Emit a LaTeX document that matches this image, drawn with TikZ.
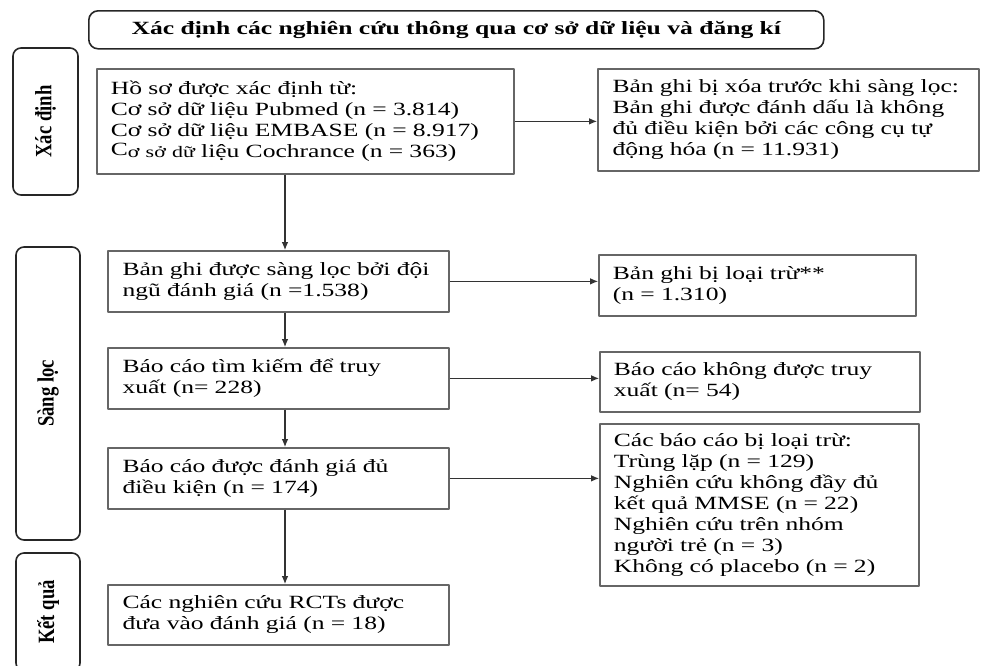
\documentclass[tikz,border=0pt]{standalone}
\usepackage{fontspec}
\setmainfont{Liberation Serif}[FakeStretch=1.37]
\newfontfamily\sidefont{Liberation Serif}
\usetikzlibrary{arrows.meta, positioning}

\begin{document}
\begin{tikzpicture}[x=0.75pt, y=-0.75pt, line join=round]

  \def\fsz{\fontsize{14pt}{15.75pt}\selectfont}

  % Styles
  \tikzset{
    phase/.style={draw=black!85, line width=1.2pt, rounded corners=6pt, rotate=90,
      inner sep=0pt, font=\sidefont\bfseries\fsz},
    head/.style={draw=black!85, line width=1.2pt, rounded corners=7pt, anchor=north west,
      inner sep=0pt, font=\bfseries\fsz},
    box/.style={draw=black!60, line width=1.3pt, anchor=north west, align=left,
      inner ysep=0pt, font=\fsz},
    flow/.style={-{Latex[length=6pt, width=5pt]}, line width=0.8pt, black!80},
  }

  \useasboundingbox (0,0) rectangle (981,665);
  \clip (0,0) rectangle (981,665);

  % Header
  \node[head, minimum width=551.25pt, minimum height=28.5pt] (title) at (88,10)
    {Xác định các nghiên cứu thông qua cơ sở dữ liệu và đăng kí};

  % Phase labels
  \node[phase, minimum width=110.25pt, minimum height=48.75pt] (idf) at (45.5,121.5)
    {\scalebox{1}[1.25]{Xác định}};
  \node[phase, minimum width=219.75pt, minimum height=48pt] (scr) at (48,393.5)
    {\scalebox{1}[1.25]{Sàng lọc}};
  \node[phase, minimum width=88.5pt, minimum height=48pt] (res) at (48,612)
    {\scalebox{1}[1.25]{Kết quả}};

  % Main column
  \node[box, minimum width=312.75pt, minimum height=78.75pt, inner xsep=10.5pt,
    text width=291.75pt] (found) at (96,68)
    {Hồ sơ được xác định từ:\\
     Cơ sở dữ liệu Pubmed (n = 3.814)\\
     Cơ sở dữ liệu EMBASE (n = 8.917)\\
     \raisebox{1.5pt}{C}{\fontsize{12pt}{15.75pt}\selectfont ơ sở dữ} liệu Cochrance (n = 363)};
  \node[box, minimum width=255.75pt, minimum height=45.75pt, inner xsep=11pt,
    text width=233.75pt] (screened) at (107,250)
    {Bản ghi được sàng lọc bởi đội\\ ngũ đánh giá (n =1.538)};
  \node[box, minimum width=255.75pt, minimum height=45.75pt, inner xsep=11pt,
    text width=233.75pt] (sought) at (107,347)
    {Báo cáo tìm kiếm để truy\\ xuất (n= 228)};
  \node[box, minimum width=255.75pt, minimum height=45.75pt, inner xsep=11pt,
    text width=233.75pt] (assessed) at (107,447)
    {Báo cáo được đánh giá đủ\\ điều kiện (n = 174)};
  \node[box, minimum width=255.75pt, minimum height=45pt, inner xsep=11pt,
    text width=233.75pt] (included) at (107,584)
    {Các nghiên cứu RCTs được\\ đưa vào đánh giá (n = 18)};

  % Exclusion column
  \node[box, minimum width=285.75pt, minimum height=76.5pt, inner xsep=11pt,
    text width=263.75pt] (removed) at (597,68)
    {Bản ghi bị xóa trước khi sàng lọc:\\
     Bản ghi được đánh dấu là không\\
     đủ điều kiện bởi các công cụ tự\\
     động hóa (n = 11.931)};
  \node[box, minimum width=237.75pt, minimum height=45.75pt, inner xsep=10.5pt,
    text width=216.75pt] (excluded) at (598,254)
    {Bản ghi bị loại trừ**\\ (n = 1.310)};
  \node[box, minimum width=240pt, minimum height=45pt, inner xsep=10.5pt,
    text width=219pt] (notret) at (599,351)
    {Báo cáo không được truy\\ xuất (n= 54)};
  \node[box, minimum width=239.25pt, minimum height=121.5pt, inner xsep=10.5pt,
    text width=218.25pt] (repexcl) at (599,423)
    {Các báo cáo bị loại trừ:\\
     Trùng lặp (n = 129)\\
     Nghiên cứu không đầy đủ\\
     kết quả MMSE (n = 22)\\
     Nghiên cứu trên nhóm\\
     người trẻ (n = 3)\\
     Không có placebo (n = 2)};

  % Arrows
  \coordinate (spine) at (285,0);
  \draw[flow] (found.south -| spine) -- (screened.north -| spine);
  \draw[flow] (screened.south -| spine) -- (sought.north -| spine);
  \draw[flow] (sought.south -| spine) -- (assessed.north -| spine);
  \draw[flow] (assessed.south -| spine) -- (included.north -| spine);

  \draw[flow] (found.east) -- (found.east -| removed.west);
  \draw[flow] (screened.east) -- (screened.east -| excluded.west);
  \draw[flow] (sought.east) -- (sought.east -| notret.west);
  \draw[flow] (assessed.east) -- (assessed.east -| repexcl.west);

\end{tikzpicture}
\end{document}
